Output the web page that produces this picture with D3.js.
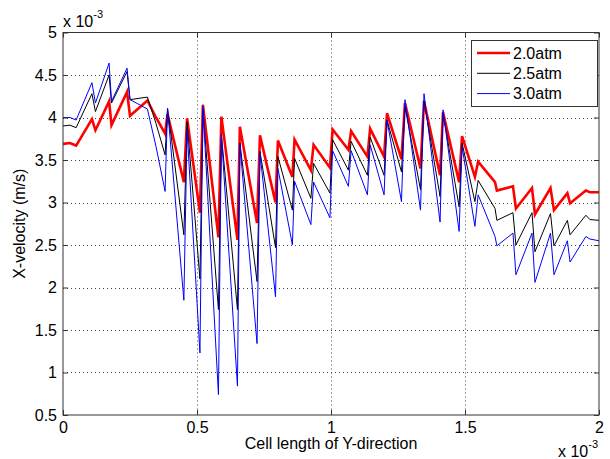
<!DOCTYPE html>
<meta charset="utf-8">
<script src="https://d3js.org/d3.v7.min.js"></script>
<style>
  body { margin: 0; background: #fff; }
  text { font-family: Arial, "Liberation Sans", sans-serif; fill: #000; }
</style>
<div id="chart"></div>
<script>
  // x positions, in units of 1e-3
  const cellX = [0, 0.026, 0.049, 0.108, 0.121, 0.172, 0.181, 0.239, 0.250, 0.315,
    0.347, 0.381, 0.390, 0.451, 0.463, 0.511, 0.522, 0.580, 0.591, 0.651,
    0.660, 0.724, 0.735, 0.793, 0.802, 0.856, 0.864, 0.925, 0.935, 0.996,
    1.006, 1.065, 1.075, 1.136, 1.146, 1.198, 1.209, 1.263, 1.276, 1.334,
    1.347, 1.407, 1.418, 1.478, 1.489, 1.537, 1.549, 1.612, 1.619, 1.679,
    1.690, 1.750, 1.761, 1.819, 1.832, 1.882, 1.892, 1.951, 1.966, 2.0];

  // x-velocity, in units of 1e-3 m/s
  const vel20 = [3.69, 3.70, 3.67, 3.98, 3.85, 4.19, 3.91, 4.30, 4.02, 4.20,
    4.00, 3.81, 4.04, 3.24, 3.99, 2.88, 4.15, 2.59, 4.01, 2.56,
    3.89, 2.76, 3.79, 3.00, 3.73, 3.30, 3.74, 3.38, 3.68, 3.41,
    3.86, 3.62, 3.84, 3.54, 3.87, 3.54, 4.05, 3.51, 4.17, 3.40,
    4.19, 3.32, 4.06, 3.24, 3.78, 3.30, 3.48, 3.24, 3.14, 3.19,
    2.93, 3.17, 2.86, 3.17, 2.91, 3.11, 2.99, 3.14, 3.12, 3.12];

  const vel25 = [3.90, 3.91, 3.88, 4.28, 4.07, 4.50, 4.17, 4.54, 4.21, 4.24,
    3.93, 3.56, 4.11, 2.62, 3.95, 2.10, 4.10, 1.74, 3.80, 1.74,
    3.70, 2.07, 3.60, 2.47, 3.54, 2.91, 3.52, 3.05, 3.46, 3.11,
    3.74, 3.38, 3.72, 3.32, 3.77, 3.32, 3.97, 3.36, 4.13, 3.15,
    4.20, 3.07, 4.05, 2.95, 3.70, 3.01, 3.26, 2.93, 2.79, 2.88,
    2.50, 2.88, 2.42, 2.87, 2.49, 2.79, 2.62, 2.85, 2.80, 2.79];

  const vel30 = [4.00, 4.00, 3.97, 4.41, 4.17, 4.64, 4.19, 4.58, 4.21, 4.10,
    3.66, 3.13, 4.11, 1.85, 3.85, 1.23, 4.13, 0.74, 3.80, 0.84,
    3.69, 1.34, 3.58, 1.89, 3.40, 2.50, 3.25, 2.74, 3.24, 2.82,
    3.61, 3.19, 3.61, 3.09, 3.68, 3.09, 3.97, 3.01, 4.21, 2.91,
    4.28, 2.77, 4.09, 2.66, 3.66, 2.72, 3.09, 2.60, 2.49, 2.64,
    2.15, 2.64, 2.06, 2.64, 2.15, 2.55, 2.30, 2.60, 2.57, 2.55];

  const seriesNames = ["2.0atm", "2.5atm", "3.0atm"];
  const xTicks = [0, 0.5, 1, 1.5, 2];
  const yTicks = [0.5, 1, 1.5, 2, 2.5, 3, 3.5, 4, 4.5, 5];

  const width = 610, height = 459;
  const margin = {top: 32.5, right: 11, bottom: 44, left: 63};

  const svg = d3.select("#chart").append("svg")
    .attr("width", width)
    .attr("height", height);

  const x = d3.scaleLinear().domain([0, 2]).range([margin.left, width - margin.right]);
  const y = d3.scaleLinear().domain([0.5, 5]).range([height - margin.bottom, margin.top]);

  const x0 = x.range()[0], x1 = x.range()[1];
  const y0 = y.range()[0], y1 = y.range()[1];

  // dotted grid
  const grid = svg.append("g")
    .attr("stroke", "#444")
    .attr("stroke-width", 1)
    .attr("stroke-dasharray", "1,3");
  grid.selectAll(".gx").data(xTicks.slice(1, -1)).join("line")
    .attr("x1", d => Math.round(x(d)) + 0.5).attr("x2", d => Math.round(x(d)) + 0.5)
    .attr("y1", y1).attr("y2", y0);
  grid.selectAll(".gy").data(yTicks.slice(1, -1)).join("line")
    .attr("x1", x0).attr("x2", x1)
    .attr("y1", d => Math.round(y(d)) + 0.5).attr("y2", d => Math.round(y(d)) + 0.5);

  // data lines
  const line = d3.line()
    .x((d, i) => x(cellX[i]))
    .y(d => y(d));

  const styles = [
    {data: vel20, color: "#ff0000", w: 2.6},
    {data: vel25, color: "#000000", w: 1},
    {data: vel30, color: "#0000ff", w: 1}
  ];

  svg.append("g").selectAll("path").data(styles).join("path")
    .attr("d", d => line(d.data))
    .attr("fill", "none")
    .attr("stroke", d => d.color)
    .attr("stroke-width", d => d.w)
    .attr("stroke-linejoin", "miter");

  // axes box with inward ticks (MATLAB style)
  const axisColor = "#333";
  const xAxis = d3.axisBottom(x).tickValues(xTicks).tickSize(-5).tickPadding(7)
    .tickFormat(d3.format("~g"));
  const yAxis = d3.axisLeft(y).tickValues(yTicks).tickSize(-5).tickPadding(6)
    .tickFormat(d3.format("~g"));

  const gx = svg.append("g").attr("transform", `translate(0,${y0})`).call(xAxis);
  const gy = svg.append("g").attr("transform", `translate(${x0},0)`).call(yAxis);
  const gxTop = svg.append("g").attr("transform", `translate(0,${y1})`)
    .call(d3.axisTop(x).tickValues(xTicks).tickSize(-5).tickFormat(""));
  const gyRight = svg.append("g").attr("transform", `translate(${x1},0)`)
    .call(d3.axisRight(y).tickValues(yTicks).tickSize(-5).tickFormat(""));

  [gx, gy, gxTop, gyRight].forEach(g => {
    g.select(".domain").remove();
    g.selectAll(".tick line").attr("stroke", axisColor);
    g.selectAll("text").attr("font-size", 16).attr("fill", "#000")
      .attr("font-family", "Arial, 'Liberation Sans', sans-serif");
  });

  svg.append("rect")
    .attr("x", x0).attr("y", y1)
    .attr("width", x1 - x0).attr("height", y0 - y1)
    .attr("fill", "none").attr("stroke", axisColor).attr("stroke-width", 1);

  // exponent notes
  const topNote = svg.append("text").attr("x", x0).attr("y", 27).attr("font-size", 16);
  topNote.append("tspan").text("x 10");
  topNote.append("tspan").attr("font-size", 11).attr("dy", -9).text("-3");

  const botNote = svg.append("text").attr("x", 558).attr("y", 457).attr("font-size", 16);
  botNote.append("tspan").text("x 10");
  botNote.append("tspan").attr("font-size", 11).attr("dy", -9).text("-3");

  // axis titles
  svg.append("text")
    .attr("x", (x0 + x1) / 2).attr("y", 449)
    .attr("text-anchor", "middle").attr("font-size", 16)
    .text("Cell length of Y-direction");

  svg.append("text")
    .attr("transform", `translate(25,${(y0 + y1) / 2}) rotate(-90)`)
    .attr("text-anchor", "middle").attr("font-size", 16)
    .text("X-velocity (m/s)");

  // legend
  const legend = svg.append("g");
  legend.append("rect")
    .attr("x", 471.5).attr("y", 40.5).attr("width", 126).attr("height", 66)
    .attr("fill", "#fff").attr("stroke", "#333");
  const rows = legend.selectAll("g.row").data(styles).join("g")
    .attr("transform", (d, i) => `translate(0,${53 + i * 20.3})`);
  rows.append("line")
    .attr("x1", 477).attr("x2", 510)
    .attr("stroke", d => d.color)
    .attr("stroke-width", d => d.w);
  rows.append("text")
    .attr("x", 513).attr("dy", "0.35em").attr("font-size", 16)
    .text((d, i) => seriesNames[i]);
</script>
